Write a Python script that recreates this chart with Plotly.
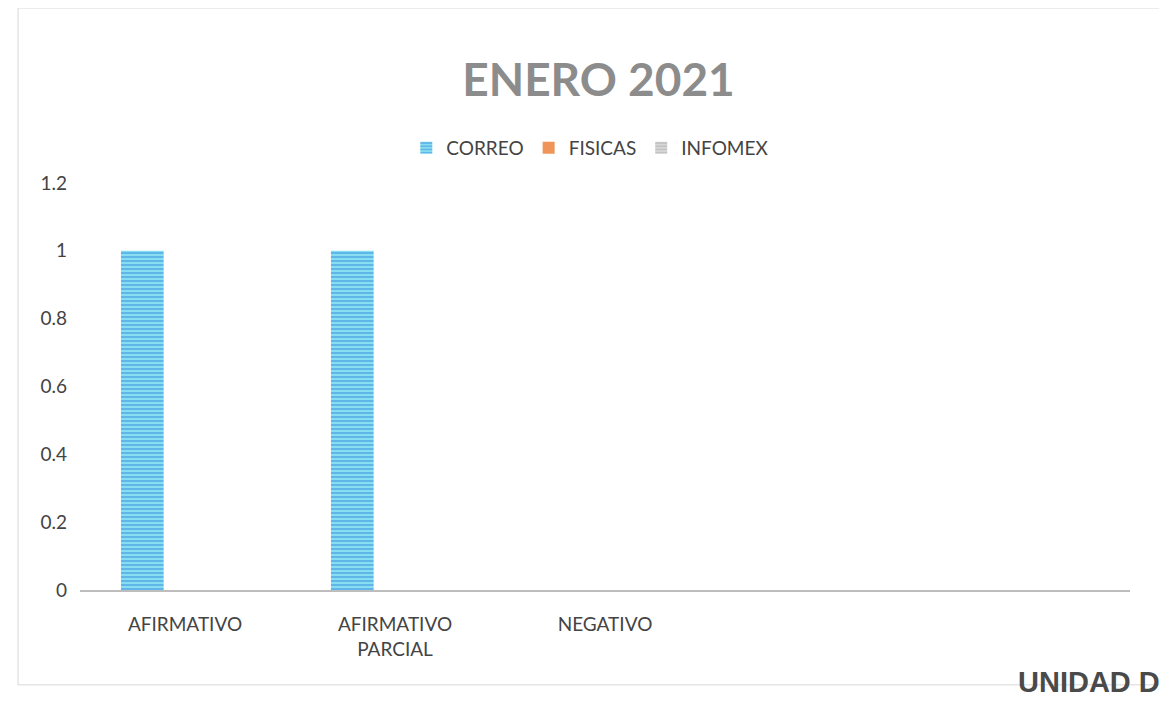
import plotly.graph_objects as go

categories = ["AFIRMATIVO", "AFIRMATIVO<br>PARCIAL", "NEGATIVO", " ", "  "]
correo = [1, 1, 0, None, None]
fisicas = [0, 0, 0, None, None]
infomex = [0, 0, 0, None, None]
y_ticks = [0, 0.2, 0.4, 0.6, 0.8, 1, 1.2]
y_tick_labels = ["0", "0.2", "0.4", "0.6", "0.8", "1", "1.2"]

fig = go.Figure()
fig.add_bar(x=categories, y=correo, name="CORREO",
            marker=dict(color="#7fdcef", line=dict(width=0),
                        pattern=dict(shape="-", fgcolor="#3a8de0", bgcolor="#86def0",
                                     size=4, solidity=0.5)))
fig.add_bar(x=categories, y=fisicas, name="FISICAS",
            marker=dict(color="#f0955a", line=dict(width=0)))
fig.add_bar(x=categories, y=infomex, name="INFOMEX",
            marker=dict(color="#c4c4c4", line=dict(width=0),
                        pattern=dict(shape="-", fgcolor="#a8a8a8", bgcolor="#d6d6d6",
                                     size=4, solidity=0.4)))

fig.update_layout(
    width=1167, height=702,
    paper_bgcolor="white", plot_bgcolor="white",
    margin=dict(l=72, r=45, t=175, b=120),
    barmode="group", bargap=0.39, bargroupgap=0,
    font=dict(family="Lato, 'Open Sans', sans-serif", color="#444444", size=18),
    title=dict(text="<b>ENERO 2021</b>", x=0.506, xanchor="center", y=0.897, yanchor="middle",
               font=dict(size=46, color="#8c8c8c", family="Lato, 'Open Sans', sans-serif")),
    legend=dict(orientation="h", x=0.486, xanchor="center", y=1.086, yanchor="middle",
                font=dict(size=19, color="#444444"), itemwidth=30, traceorder="normal"),
    showlegend=True,
)
fig.update_xaxes(showline=True, linecolor="#bdbdbd", linewidth=2, showgrid=False,
                 ticks="", ticklabelstandoff=16, tickfont=dict(size=19, color="#444444"))
fig.update_yaxes(range=[0, 1.2], tickvals=y_ticks, ticktext=y_tick_labels,
                 showgrid=False, zeroline=False, showline=False, ticks="",
                 ticklabelstandoff=12, tickfont=dict(size=19, color="#444444"))

fig.add_shape(type="rect", xref="paper", yref="paper", x0=-0.059, x1=1.06, y0=-0.233, y1=1.43,
              line=dict(color="#d8d8d8", width=1), fillcolor="rgba(0,0,0,0)")
fig.add_annotation(text="<b>UNIDAD D</b>", xref="paper", yref="paper", x=1.03, y=-0.27,
                   xanchor="right", yanchor="bottom", showarrow=False,
                   font=dict(size=29, color="#4a4a4a", family="Liberation Sans, Arial, sans-serif"))

fig.write_html("out.html")
